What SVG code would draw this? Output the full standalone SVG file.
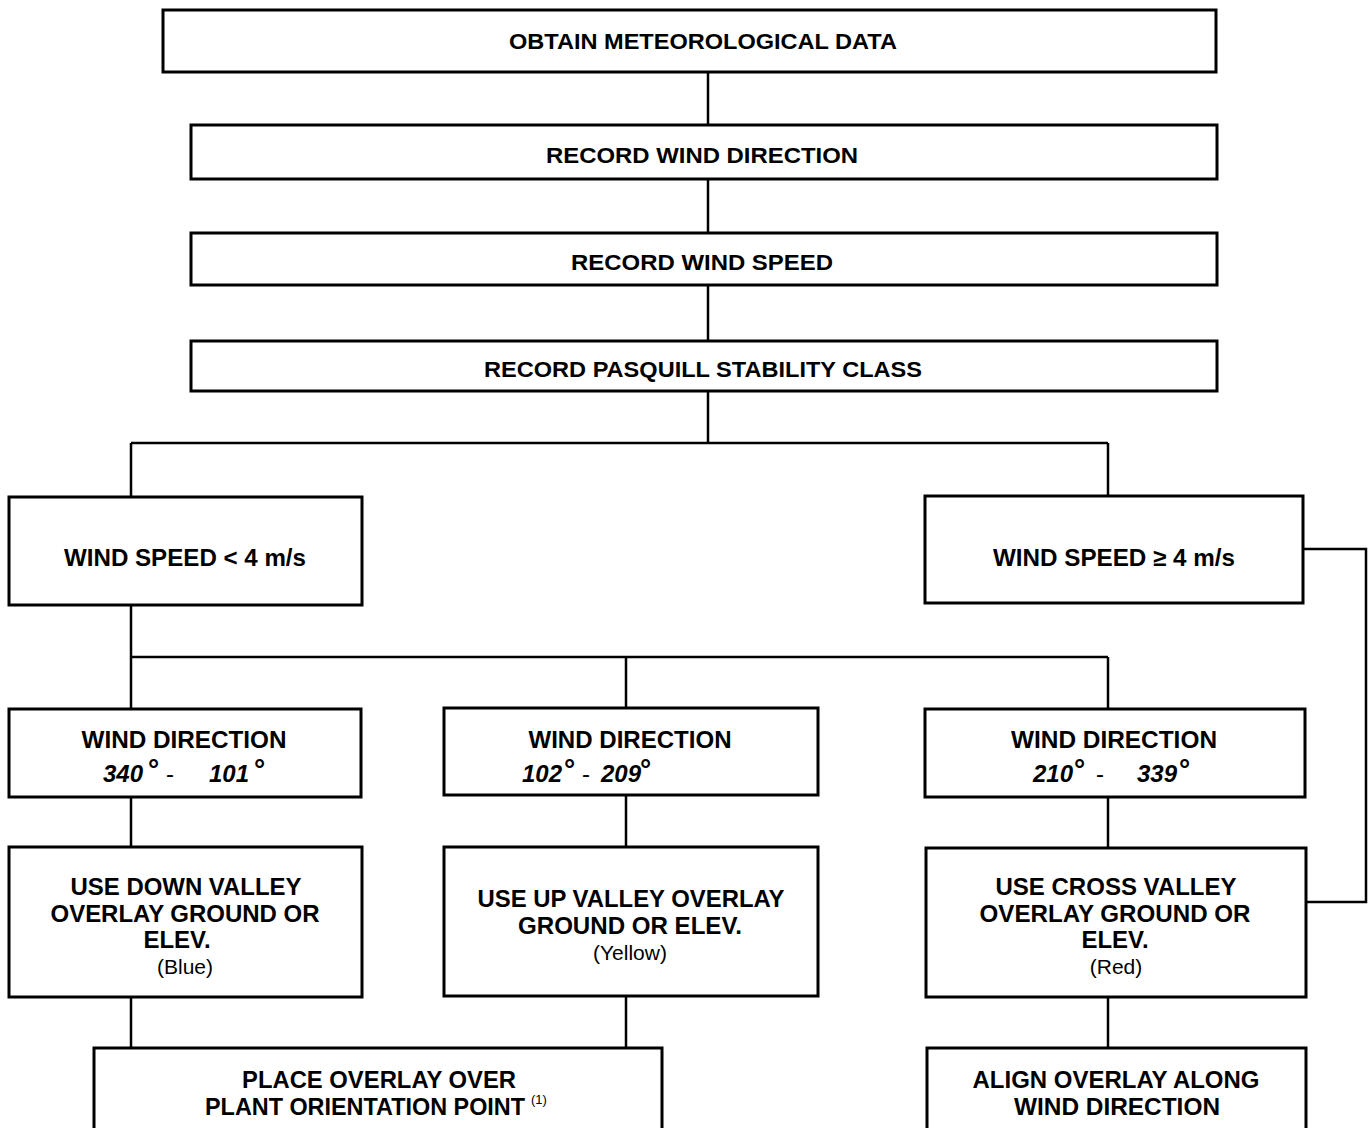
<svg xmlns="http://www.w3.org/2000/svg" width="1369" height="1128" viewBox="0 0 1369 1128">
<style>
.box{fill:#fff;stroke:#000;stroke-width:3}
.con{fill:none;stroke:#000;stroke-width:2.5}
text{font-family:"Liberation Sans",Arial,sans-serif;font-weight:bold;fill:#000;text-anchor:middle}
.t{font-size:22px}
.m{font-size:24px}
.s{font-size:21px;font-weight:normal}
.deg{font-size:24px;text-anchor:start}
.n{font-style:italic}
.h{font-weight:normal}
.d{font-size:28px}
.sup{font-size:13px;font-weight:normal;text-anchor:start}
</style>
<rect width="1369" height="1128" fill="#fff"/>
<g id="connectors">
<path class="con" d="M708 72V125M708 179V233M708 285V341M708 391V443M131 443H1108M131 443V497M1108 443V496"/>
<path class="con" d="M1303 549H1366V902H1306"/>
<path class="con" d="M131 605V657M131 657H1108M131 657V709M626 657V708M1108 657V709"/>
<path class="con" d="M131 797V847M626 795V847M1108 797V848"/>
<path class="con" d="M131 997V1048M626 996V1048M1108 997V1048"/>
</g>
<g id="n1"><rect class="box" x="163" y="10" width="1053" height="62"/><text class="t" x="703" y="49" textLength="388" lengthAdjust="spacingAndGlyphs">OBTAIN METEOROLOGICAL DATA</text></g>
<g id="n2"><rect class="box" x="191" y="125" width="1026" height="54"/><text class="t" x="702" y="163" textLength="312" lengthAdjust="spacingAndGlyphs">RECORD WIND DIRECTION</text></g>
<g id="n3"><rect class="box" x="191" y="233" width="1026" height="52"/><text class="t" x="702" y="270" textLength="262" lengthAdjust="spacingAndGlyphs">RECORD WIND SPEED</text></g>
<g id="n4"><rect class="box" x="191" y="341" width="1026" height="50"/><text class="t" x="703" y="377" textLength="438" lengthAdjust="spacingAndGlyphs">RECORD PASQUILL STABILITY CLASS</text></g>
<g id="n5"><rect class="box" x="9" y="497" width="353" height="108"/><text class="m" x="185" y="566" textLength="242" lengthAdjust="spacingAndGlyphs">WIND SPEED &lt; 4 m/s</text></g>
<g id="n6"><rect class="box" x="925" y="496" width="378" height="107"/><text class="m" x="1114" y="566" textLength="242" lengthAdjust="spacingAndGlyphs">WIND SPEED ≥ 4 m/s</text></g>
<g id="n7"><rect class="box" x="9" y="709" width="352" height="88"/>
<text class="m" x="184" y="748" textLength="205" lengthAdjust="spacingAndGlyphs">WIND DIRECTION</text>
<text class="deg" y="782"><tspan class="n" x="103">340</tspan><tspan class="d" x="148" y="779">°</tspan><tspan class="h" x="166" y="782">-</tspan><tspan class="n" x="209">101</tspan><tspan class="d" x="254" y="779">°</tspan></text></g>
<g id="n8"><rect class="box" x="444" y="708" width="374" height="87"/>
<text class="m" x="630" y="748" textLength="203" lengthAdjust="spacingAndGlyphs">WIND DIRECTION</text>
<text class="deg" y="782"><tspan class="n" x="522">102</tspan><tspan class="d" x="564" y="779">°</tspan><tspan class="h" x="582" y="782">-</tspan><tspan class="n" x="601">209</tspan><tspan class="d" x="640" y="779">°</tspan></text></g>
<g id="n9"><rect class="box" x="925" y="709" width="380" height="88"/>
<text class="m" x="1114" y="748" textLength="206" lengthAdjust="spacingAndGlyphs">WIND DIRECTION</text>
<text class="deg" y="782"><tspan class="n" x="1033">210</tspan><tspan class="d" x="1074" y="779">°</tspan><tspan class="h" x="1096" y="782">-</tspan><tspan class="n" x="1137">339</tspan><tspan class="d" x="1179" y="779">°</tspan></text></g>
<g id="n10"><rect class="box" x="9" y="847" width="353" height="150"/>
<text class="m" x="186" y="895" textLength="231" lengthAdjust="spacingAndGlyphs">USE DOWN VALLEY</text>
<text class="m" x="185" y="922" textLength="269" lengthAdjust="spacingAndGlyphs">OVERLAY GROUND OR</text>
<text class="m" x="177" y="948">ELEV.</text>
<text class="s" x="185" y="974">(Blue)</text></g>
<g id="n11"><rect class="box" x="444" y="847" width="374" height="149"/>
<text class="m" x="631" y="907" textLength="307" lengthAdjust="spacingAndGlyphs">USE UP VALLEY OVERLAY</text>
<text class="m" x="630" y="934" textLength="224" lengthAdjust="spacingAndGlyphs">GROUND OR ELEV.</text>
<text class="s" x="630" y="960">(Yellow)</text></g>
<g id="n12"><rect class="box" x="926" y="848" width="380" height="149"/>
<text class="m" x="1116" y="895" textLength="241" lengthAdjust="spacingAndGlyphs">USE CROSS VALLEY</text>
<text class="m" x="1115" y="922" textLength="271" lengthAdjust="spacingAndGlyphs">OVERLAY GROUND OR</text>
<text class="m" x="1115" y="948">ELEV.</text>
<text class="s" x="1116" y="974">(Red)</text></g>
<g id="n13"><rect class="box" x="94" y="1048" width="568" height="100"/>
<text class="m" x="379" y="1088" textLength="274" lengthAdjust="spacingAndGlyphs">PLACE OVERLAY OVER</text>
<text class="m" x="365" y="1115" textLength="320" lengthAdjust="spacingAndGlyphs">PLANT ORIENTATION POINT</text>
<text class="sup" x="531" y="1104">(1)</text></g>
<g id="n14"><rect class="box" x="927" y="1048" width="379" height="100"/>
<text class="m" x="1116" y="1088" textLength="287" lengthAdjust="spacingAndGlyphs">ALIGN OVERLAY ALONG</text>
<text class="m" x="1117" y="1115" textLength="206" lengthAdjust="spacingAndGlyphs">WIND DIRECTION</text></g>
</svg>
